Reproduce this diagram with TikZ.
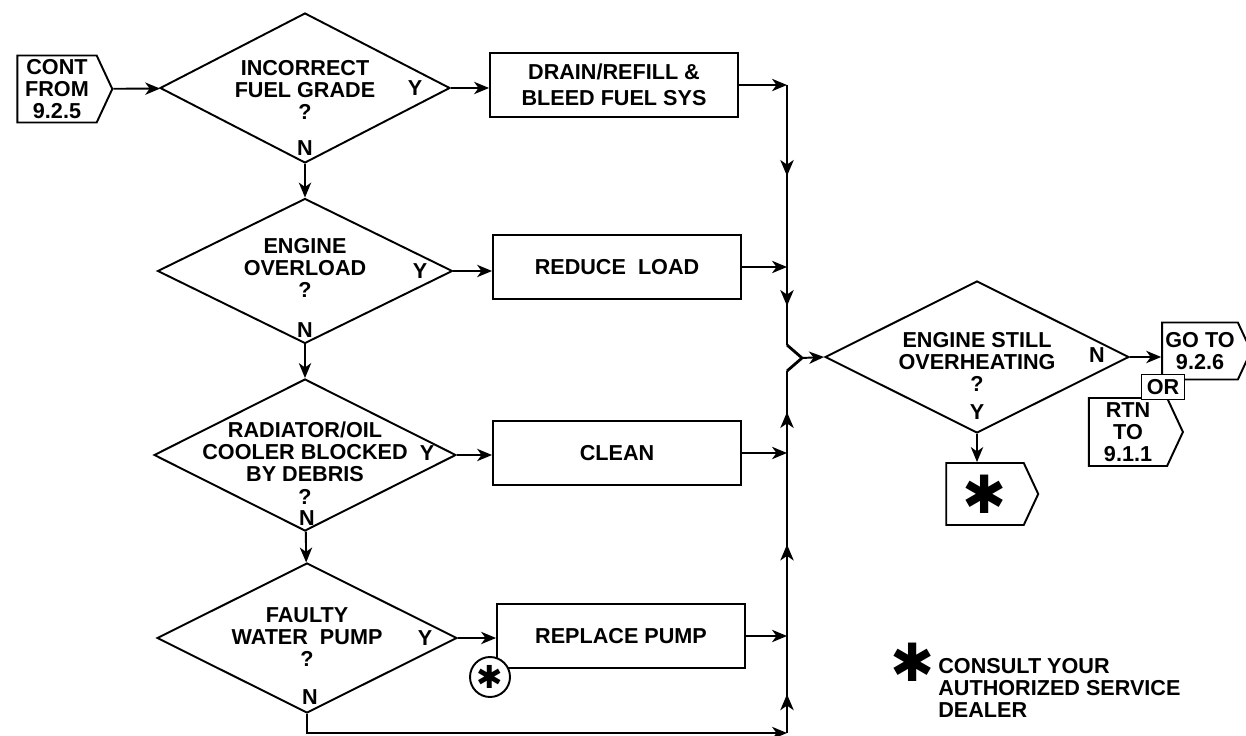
\documentclass[tikz,border=0pt]{standalone}
\usepackage{fontspec}
\setmainfont{Liberation Sans}
\newfontfamily\symfont{DejaVu Sans}
\usetikzlibrary{arrows.meta,positioning,shapes.geometric,shapes.symbols,decorations.markings}

\begin{document}
\begin{tikzpicture}[
            x=0.02cm, y=-0.02cm,
            font=\fontsize{12.3}{12.6}\selectfont\bfseries,
            decision/.style={
                    diamond, draw, line width=1.1pt, inner sep=0pt,
                    minimum width=6cm, minimum height=3cm
                },
            qtext/.style={align=center, inner sep=0pt},
            box/.style={
                    draw, line width=1.1pt, align=center,
                    minimum width=4.96cm, minimum height=1.28cm
                },
            tag/.style={
                    signal, signal to=east, signal pointer angle=130,
                    draw, line width=1.1pt, inner sep=0pt, align=center
                },
            arr/.style={-{Stealth[length=8.5pt,width=7pt,inset=2.5pt]}, line width=1.1pt},
            trunk/.style={line width=1.6pt},
            midarrow/.style={postaction={decorate}, decoration={markings,
                    mark=at position #1 with {\arrow{Stealth[length=9pt,width=7.5pt,inset=2.5pt]}}}},
            bigstar/.style={inner sep=0pt, font=\symfont\mdseries\fontsize{30}{30}\selectfont}
            ]
            \useasboundingbox (0,0) rectangle (1246,736);

            % entry tag
            \node[tag, minimum width=1.9cm, minimum height=1.34cm] (cont) at (57,89)
            {CONT\\FROM\\9.2.5};

            % checks on the left
            \node[decision, minimum width=5.8cm] (d1) at (305,88) {};
            \node[qtext] (q1) at (305,90) {INCORRECT\\FUEL GRADE\\?};
            \node (y1) at (415,88) {Y};
            \node (n1) at (305,148) {N};

            \node[decision, minimum width=5.9cm, minimum height=2.9cm] (d2) at (305,271) {};
            \node[qtext] (q2) at (305,268) {ENGINE\\OVERLOAD\\?};
            \node (y2) at (420,271) {Y};
            \node (n2) at (305,330) {N};

            \node[decision, minimum width=6.04cm, minimum height=3.04cm] (d3) at (305,455) {};
            \node[qtext] (q3) at (305,463) {RADIATOR/OIL\\COOLER BLOCKED\\BY DEBRIS\\?};
            \node (y3) at (427,453) {Y};
            \node (n3) at (307,518) {N};

            \node[decision] (d4) at (307,638) {};
            \node[qtext] (q4) at (307,637) {FAULTY\\WATER~ PUMP\\?};
            \node (y4) at (425,638) {Y};
            \node (n4) at (310,697) {N};

            % remedies
            \node[box] (fix) at (614,85) {DRAIN/REFILL \&\\[2.5pt]BLEED FUEL SYS};
            \node[box] (load) at (617,267) {REDUCE~ LOAD};
            \node[box] (clean) at (617,453) {CLEAN};
            \node[box] (pump) at (621,636) {REPLACE PUMP};
            \node[circle, draw, fill=white, line width=1.1pt, minimum size=0.8cm,
                inner sep=0pt, font=\symfont\mdseries\fontsize{18}{18}\selectfont] (note) at (490,677) {✱};

            % final check
            \node[decision, minimum width=6.08cm, minimum height=3.04cm] (d5) at (977,357) {};
            \node[qtext] (q5) at (977,362) {ENGINE STILL\\OVERHEATING\\?};
            \node (y5) at (977,412) {Y};
            \node (n5) at (1097,355) {N};

            \node[tag, minimum width=1.78cm, minimum height=1.14cm] (goto) at (1200,351) {GO TO\\9.2.6};
            \node[tag, minimum width=1.88cm, minimum height=1.36cm] (rtn) at (1128,432) {RTN\\TO\\9.1.1};
            \node[draw, fill=white, line width=1.1pt, minimum width=0.86cm, minimum height=0.5cm,
                inner sep=1pt] (or) at (1163,387) {OR};
            \node[tag, minimum width=1.84cm, minimum height=1.24cm, font=\symfont\mdseries\fontsize{30}{30}\selectfont]
            (dealer) at (985,494) {✱};

            % legend
            \node[bigstar] (key) at (913,662) {✱};
            \node[qtext, align=left, anchor=west] (keytext) at (938,688)
            {CONSULT YOUR\\AUTHORIZED SERVICE\\DEALER};

            % collecting line
            \coordinate (j1) at (787,85);
            \coordinate (j2) at (787,267);
            \coordinate (j3) at (787,453);
            \coordinate (j4) at (787,636);
            \coordinate (j5) at (787,733);
            \coordinate (k1) at (787,345);
            \coordinate (m) at (802,358);
            \coordinate (k2) at (787,371);
            \coordinate (b1) at (d4.south |- j5);

            \draw[arr] (cont) -- (d1);
            \draw[arr] (d1.east) -- (d1.east -| fix.west);
            \draw[arr] (d2.east) -- (d2.east -| load.west);
            \draw[arr] (d3.east) -- (d3.east -| clean.west);
            \draw[arr] (d4.east) -- (d4.east -| pump.west);
            \draw[arr] (d1) -- (d2);
            \draw[arr] (d2) -- (d3);
            \draw[arr] (d3) -- (d4);
            \draw[arr] (d4.south) -- (b1) -- (j5);

            \draw[arr] (fix.east) -- (j1);
            \draw[arr] (load.east) -- (j2);
            \draw[arr] (clean.east) -- (j3);
            \draw[arr] (pump.east) -- (j4);

            \draw[trunk, midarrow=0.5] (j1) -- (j2);
            \draw[trunk, midarrow=0.5] (j2) -- (k1);
            \draw[trunk] (k1) -- (m) -- (k2);
            \draw[trunk, midarrow=0.5] (j3) -- (k2);
            \draw[trunk, midarrow=0.5] (j4) -- (j3);
            \draw[trunk, midarrow=0.4] (j5) -- (j4);
            \draw[arr] (m) -- (d5.west);

            \draw[arr] (d5.east) -- (d5.east -| goto.west);
            \draw[arr] (d5.south) -- (d5.south |- dealer.north);
        \end{tikzpicture}
\end{document}
